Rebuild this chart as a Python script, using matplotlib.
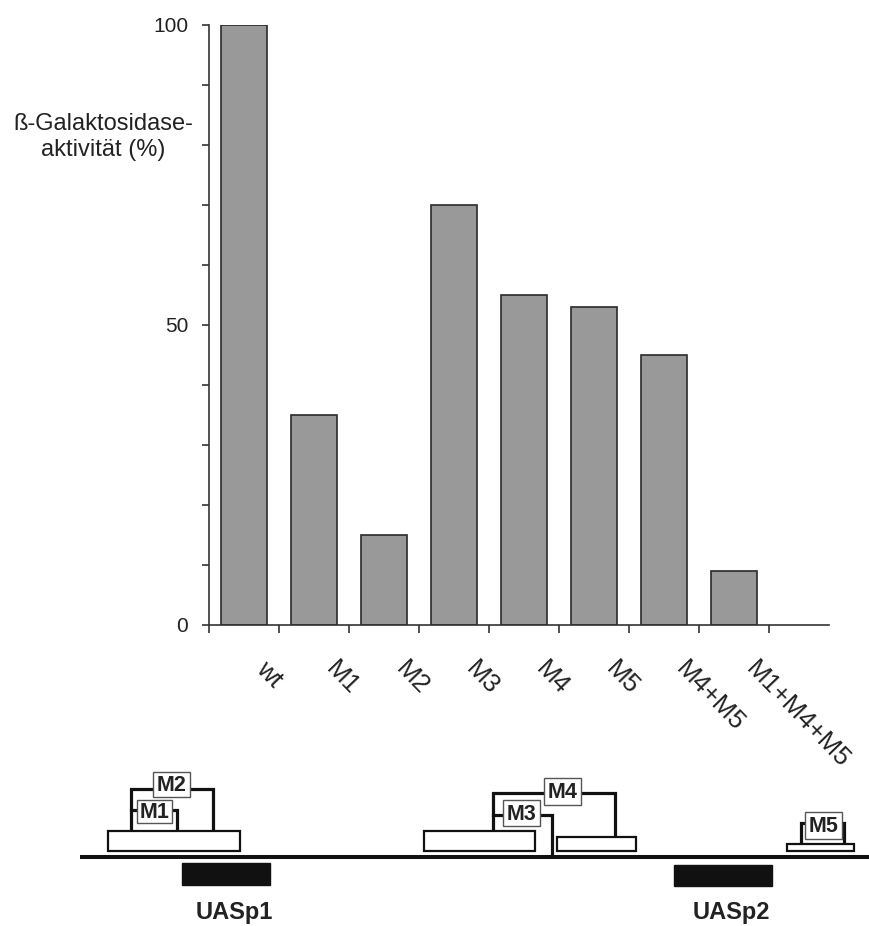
#!/usr/bin/env python
# Beta-galactosidase activity of promoter mutants, with schematic of the promoter below
import matplotlib
matplotlib.use("Agg")
import matplotlib.pyplot as plt
from matplotlib.patches import Rectangle

plt.rcParams['font.family'] = ['Liberation Sans', 'DejaVu Sans']

# data
categories = ["wt", "M1", "M2", "M3", "M4", "M5", "M4+M5", "M1+M4+M5"]
activity = [100, 35, 15, 70, 55, 53, 45, 9]

fig = plt.figure(figsize=(8.69, 9.26), dpi=100)
W, H = 869, 926

# main bar chart, placed in pixel terms of the figure
left, right, top, bottom = 209, 829, 25, 625
ax = fig.add_axes([left / W, 1 - bottom / H, (right - left) / W, (bottom - top) / H])
ax.patch.set_alpha(0)

x = list(range(len(categories)))
ax.bar(x, activity, width=0.66, color="#999999", edgecolor="#2a2a2a", linewidth=1.2, zorder=2)

ax.set_xlim(-0.5, 8.357)
ax.set_ylim(0, 100)
ax.spines['top'].set_visible(False)
ax.spines['right'].set_visible(False)
ax.spines['left'].set_color("#333333")
ax.spines['bottom'].set_color("#333333")
ax.spines['left'].set_linewidth(1.2)
ax.spines['bottom'].set_linewidth(1.2)

ax.set_yticks([0, 50, 100])
ax.set_yticks(range(0, 101, 10), minor=True)
ax.set_yticklabels(["0", "50", "100"], fontsize=15, color="#222222")
ax.tick_params(axis='y', which='both', direction='out', length=5, width=1.2, color="#333333", pad=10)

ax.set_xticks([i - 0.5 for i in range(len(categories) + 1)])
ax.set_xticklabels([])
ax.tick_params(axis='x', direction='out', length=6, width=1.2, color="#333333")

for i, lab in enumerate(categories):
    ax.text(i + 0.1, -5.3, lab, rotation=-46, ha='left', va='top',
            fontsize=18.5, color="#222222", clip_on=False)

fig.text(103 / W, 1 - 137 / H, "ß-Galaktosidase-\naktivität (%)", ha='center', va='center',
         fontsize=17, color="#222222", linespacing=1.25)

# promoter schematic below, drawn in figure pixel coordinates
dg = fig.add_axes([0, 0, 1, 1])
dg.set_xlim(0, W)
dg.set_ylim(H, 0)
dg.axis('off')
dg.patch.set_alpha(0)

baseline = [(80, 857), (869, 857)]
protein_boxes = [(108, 831, 240, 851), (424, 831, 535, 851), (557, 837, 636, 851), (787, 844, 854, 851)]
uas_boxes = [(182, 863, 270, 885), (674, 865, 772, 886)]
uas_labels = ["UASp1", "UASp2"]
brackets = [
    [(131, 831), (131, 789), (213, 789), (213, 831)],
    [(131, 810), (177, 810), (177, 831)],
    [(493, 831), (493, 793), (615, 793), (615, 837)],
    [(493, 815), (552, 815), (552, 855)],
    [(801, 844), (801, 823), (844, 823), (844, 844)],
]
mut_boxes = [(153, 772, 190, 797), (137, 800, 172, 823), (544, 778, 581, 805),
             (503, 800, 540, 826), (805, 812, 842, 839)]
mut_labels = ["M2", "M1", "M4", "M3", "M5"]

dg.plot([p[0] for p in baseline], [p[1] for p in baseline], color="#111111", lw=2.9,
        solid_capstyle='butt')

for x0, y0, x1, y1 in protein_boxes:
    dg.add_patch(Rectangle((x0, y0), x1 - x0, y1 - y0, facecolor="white",
                           edgecolor="#111111", lw=1.6, zorder=3))

for (x0, y0, x1, y1), lab in zip(uas_boxes, uas_labels):
    dg.add_patch(Rectangle((x0, y0), x1 - x0, y1 - y0, facecolor="#111111",
                           edgecolor="#111111", lw=1, zorder=3))
    dg.text((x0 + x1) / 2 + 8, y1 + 27, lab, ha='center', va='center', fontsize=17,
            fontweight='bold', color="#222222")

for br in brackets:
    dg.plot([p[0] for p in br], [p[1] for p in br], color="#111111", lw=2.3, zorder=2,
            solid_joinstyle='miter')

for (x0, y0, x1, y1), lab in zip(mut_boxes, mut_labels):
    dg.add_patch(Rectangle((x0, y0), x1 - x0, y1 - y0, facecolor="white",
                           edgecolor="#555555", lw=1.0, zorder=4))
    dg.text((x0 + x1) / 2, (y0 + y1) / 2 + 1, lab, ha='center', va='center', fontsize=15.5,
            fontweight='bold', color="#222222", zorder=5)

plt.savefig("out.png", dpi=100)
